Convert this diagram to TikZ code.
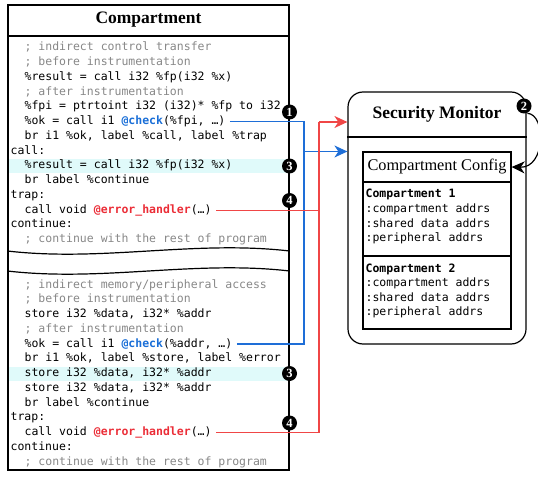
\documentclass[tikz,border=0pt]{standalone}
\usepackage{fontspec}
\setmainfont{Liberation Serif}
\setmonofont{DejaVu Sans Mono}
\usetikzlibrary{arrows.meta,positioning}

\definecolor{cmtgray}{RGB}{135,135,135}
\definecolor{chkblue}{RGB}{25,110,215}
\definecolor{errred}{RGB}{235,45,55}
\definecolor{hlcyan}{RGB}{224,250,250}
\definecolor{linkblue}{RGB}{30,110,215}
\definecolor{linkred}{RGB}{240,70,70}

\newcommand{\irfont}{\fontsize{11.5}{14}\selectfont\ttfamily}

\tikzset{
  code/.style={anchor=west, inner sep=0pt, font=\irfont, text height=8.5pt, text depth=2.5pt},
  cmt/.style={code, text=cmtgray},
  boxtitle/.style={font=\bfseries\fontsize{17.5}{20}\selectfont},
  badge/.style={circle, fill=black, text=white, inner sep=0pt, minimum size=15pt, font=\bfseries\fontsize{12.5}{13}\selectfont},
  hlband/.style={fill=hlcyan, inner sep=0pt, minimum width=279.5pt, minimum height=14pt},
  link/.style={line width=1.2pt},
  tip/.style={-{Stealth[length=13pt,width=12pt,inset=4pt]}},
}

\begin{document}
\begin{tikzpicture}[x=1pt, y=-1pt, line width=1.2pt]
    \useasboundingbox (0,0) rectangle (538,481);

    % Highlighted lines
    \node[hlband] (hl1) at (148.75,166) {};
    \node[hlband] (hl2) at (148.75,373.5) {};

    % Compartment
    \node[draw, minimum width=281pt, minimum height=465pt, inner sep=0pt] (comp) at (148.5,237.5) {};
    \node[boxtitle] (comptitle) at (148.5,20) {Compartment};
    \coordinate (cdiv) at (0,36);
    \draw (comp.west |- cdiv) -- (comp.east |- cdiv);

    % Cut marks
    \coordinate (wave1) at (0,251);
    \coordinate (wave2) at (0,271);
    \draw (comp.west |- wave1) .. controls +(95,11) and +(-95,-11) .. (comp.east |- wave1);
    \draw (comp.west |- wave2) .. controls +(95,11) and +(-95,-11) .. (comp.east |- wave2);

    % Indirect control transfer
    \node[cmt] (ctl1) at (24,48) {; indirect control transfer};
    \node[cmt] (ctl2) at (24,62.75) {; before instrumentation};
    \node[code] (ctl3) at (24,77.5) {\%result = call i32 \%fp(i32 \%x)};
    \node[cmt] (ctl4) at (24,92.25) {; after instrumentation};
    \node[code] (ctl5) at (24,107) {\%fpi = ptrtoint i32 (i32)* \%fp to i32};
    \node[code] (ctl6) at (24,121.75) {\%ok = call i1 {\color{chkblue}\bfseries @check}(\%fpi, …)};
    \node[code] (ctl7) at (24,136.5) {br i1 \%ok, label \%call, label \%trap};
    \node[code] (ctl8) at (10,151.25) {call:};
    \node[code] (ctl9) at (24,166) {\%result = call i32 \%fp(i32 \%x)};
    \node[code] (ctl10) at (24,180.75) {br label \%continue};
    \node[code] (ctl11) at (10,195.5) {trap:};
    \node[code] (ctl12) at (24,210.25) {call void {\color{errred}\bfseries @error\_handler}(…)};
    \node[code] (ctl13) at (10,225) {continue:};
    \node[cmt] (ctl14) at (24,239.75) {; continue with the rest of program};

    % Indirect memory/peripheral access
    \node[cmt] (mem1) at (24,285) {; indirect memory/peripheral access};
    \node[cmt] (mem2) at (24,299.75) {; before instrumentation};
    \node[code] (mem3) at (24,314.5) {store i32 \%data, i32* \%addr};
    \node[cmt] (mem4) at (24,329.25) {; after instrumentation};
    \node[code] (mem5) at (24,344) {\%ok = call i1 {\color{chkblue}\bfseries @check}(\%addr, …)};
    \node[code] (mem6) at (24,358.75) {br i1 \%ok, label \%store, label \%error};
    \node[code] (mem7) at (24,373.5) {store i32 \%data, i32* \%addr};
    \node[code] (mem8) at (24,388.25) {store i32 \%data, i32* \%addr};
    \node[code] (mem9) at (24,403) {br label \%continue};
    \node[code] (mem10) at (10,417.75) {trap:};
    \node[code] (mem11) at (24,432.5) {call void {\color{errred}\bfseries @error\_handler}(…)};
    \node[code] (mem12) at (10,447.25) {continue:};
    \node[cmt] (mem13) at (24,462) {; continue with the rest of program};

    % Security Monitor
    \node[draw, rounded corners=15pt, minimum width=178pt, minimum height=252pt, inner sep=0pt] (monitor) at (437,218) {};
    \node[boxtitle] (montitle) at (437,114) {Security Monitor};
    \coordinate (mdiv) at (0,137);
    \draw (monitor.west |- mdiv) -- (monitor.east |- mdiv);

    % Compartment Config
    \node[draw, minimum width=148pt, minimum height=177pt, inner sep=0pt] (config) at (437,240.5) {};
    \node[font=\fontsize{16.3}{18}\selectfont] (cfgtitle) at (437,167) {Compartment Config};
    \coordinate (cfgdiv1) at (0,182);
    \coordinate (cfgdiv2) at (0,256);
    \draw (config.west |- cfgdiv1) -- (config.east |- cfgdiv1);
    \draw (config.west |- cfgdiv2) -- (config.east |- cfgdiv2);
    \node[code] (cfg1) at (365,195) {\bfseries Compartment 1};
    \node[code] (cfg1a) at (365,209.5) {:compartment addrs};
    \node[code] (cfg1b) at (365,224) {:shared data addrs};
    \node[code] (cfg1c) at (365,238.5) {:peripheral addrs};
    \node[code] (cfg2) at (365,269) {\bfseries Compartment 2};
    \node[code] (cfg2a) at (365,283.5) {:compartment addrs};
    \node[code] (cfg2b) at (365,298) {:shared data addrs};
    \node[code] (cfg2c) at (365,312.5) {:peripheral addrs};

    % Connections
    \coordinate (bjoin) at (304,151.5);
    \coordinate (rjoin) at (319,122);
    \draw[link, linkblue] ([xshift=4pt]ctl6.east) -| (bjoin);
    \draw[link, linkblue] ([xshift=4pt]mem5.east) -| (bjoin);
    \draw[link, linkblue, tip] (bjoin) -- (bjoin -| monitor.west);
    \draw[link, linkred] ([xshift=4pt]ctl12.east) -| (rjoin);
    \draw[link, linkred] ([xshift=4pt]mem11.east) -| (rjoin);
    \draw[link, linkred, tip] (rjoin) -- (rjoin -| monitor.west);

    % Badges
    \node[badge] (n1) at (289.5,112) {1};
    \node[badge] (n3a) at (289.5,166) {3};
    \node[badge] (n4a) at (289.5,200.5) {4};
    \node[badge] (n3b) at (289.5,373.5) {3};
    \node[badge] (n4b) at (289.5,423) {4};
    \node[badge] (n2) at (524,106) {2};
    \draw[link, tip] (n2.-65) .. controls (546,114) and (546,168) .. (config.east |- cfgtitle);
\end{tikzpicture}
\end{document}
